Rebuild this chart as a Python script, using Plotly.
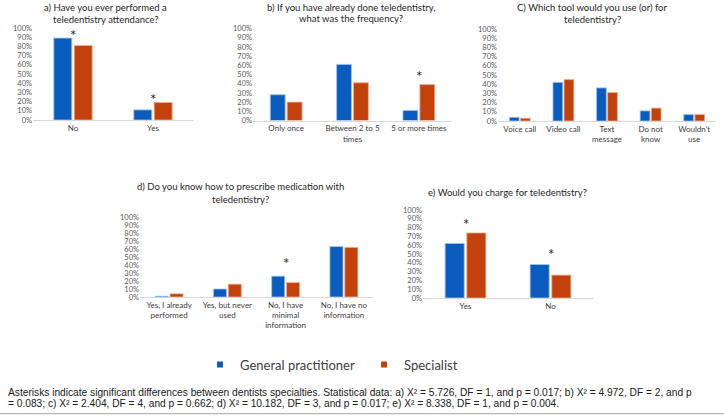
import plotly.graph_objects as go

W, H = 724, 416
BLUE = "#0B5CBF"
ORANGE = "#C2410C"
FONT = "Lato"

# ---------------- data ----------------
cats_a = ["No", "Yes"]
gp_a = [0.89, 0.11]
sp_a = [0.81, 0.19]

cats_b = ["Only once", "Between 2 to 5<br>times", "5 or more times"]
gp_b = [0.28, 0.61, 0.11]
sp_b = [0.20, 0.41, 0.39]

cats_c = ["Voice call", "Video call", "Text<br>message", "Do not<br>know", "Wouldn't<br>use"]
gp_c = [0.04, 0.42, 0.36, 0.11, 0.07]
sp_c = [0.03, 0.45, 0.31, 0.14, 0.07]

cats_d = ["Yes, I already<br>performed", "Yes, but never<br>used",
          "No, I have<br>minimal<br>information", "No, I have no<br>information"]
gp_d = [0.01, 0.10, 0.26, 0.63]
sp_d = [0.04, 0.16, 0.18, 0.62]

cats_e = ["Yes", "No"]
gp_e = [0.62, 0.38]
sp_e = [0.74, 0.26]

# significance asterisks: (category index, height)
sig_a = [(0, 0.97), (1, 0.27)]
sig_b = [(2, 0.53)]
sig_c = []
sig_d = [(2, 0.475)]
sig_e = [(0, 0.89), (1, 0.54)]

titles = [
    ["a) Have you ever performed a", "teledentistry attendance?"],
    ["b) If you have already done teledentistry,", "what was the frequency?"],
    ["C) Which tool would you use (or) for", "teledentistry?"],
    ["d) Do you know how to prescribe medication with", "teledentistry?"],
    ["e) Would you charge for teledentistry?"],
]

caption_lines = [
    "Asterisks indicate significant differences between dentists specialties. Statistical data: "
    "a) X² = 5.726, DF = 1, and p = 0.017; b) X² = 4.972, DF = 2, and p",
    "= 0.083; c) X² = 2.404, DF = 4, and p = 0.662; d) X² = 10.182, DF = 3, and p = 0.017; "
    "e) X² = 8.338, DF = 1, and p = 0.004.",
]

panels = [
    (cats_a, gp_a, sp_a, sig_a),
    (cats_b, gp_b, sp_b, sig_b),
    (cats_c, gp_c, sp_c, sig_c),
    (cats_d, gp_d, sp_d, sig_d),
    (cats_e, gp_e, sp_e, sig_e),
]

# ---------------- layout geometry (pixels) ----------------
# x0, x1, y_top(100%), y_bottom(0%)
geom = [
    (33, 193, 28, 120),
    (253, 452, 28.5, 120.5),
    (498, 716, 29, 121),
    (140, 373, 217, 297),
    (423, 593, 210, 298),
]
# title centre x and line centre ys
title_pos = [(105, [7.5, 19.5]), (351, [7, 19]), (592, [7.5, 19.5]), (240, [186, 199]), (507, [192])]


def px(x):
    return x / W


def py(y):
    return 1 - y / H


fig = go.Figure()
layout = dict(
    width=W, height=H,
    margin=dict(l=0, r=0, t=0, b=0),
    paper_bgcolor="white", plot_bgcolor="white",
    bargap=0.49, bargroupgap=0.12,
    barmode="group",
    font=dict(family=FONT, color="#404040"),
    showlegend=True,
)
annotations = []

for i, ((cats, gp, sp, sig), (x0, x1, yt, yb)) in enumerate(zip(panels, geom)):
    n = "" if i == 0 else str(i + 1)
    xa, ya = "x" + n, "y" + n
    fig.add_trace(go.Bar(
        x=cats, y=gp, name="General practitioner", xaxis=xa, yaxis=ya,
        marker=dict(color=BLUE, line=dict(color="#9FC3EE", width=0.8)),
        legendgroup="gp", showlegend=False, offsetgroup="gp" + n,
        hoverinfo="skip"))
    fig.add_trace(go.Bar(
        x=cats, y=sp, name="Specialist", xaxis=xa, yaxis=ya,
        marker=dict(color=ORANGE, line=dict(color="#F0B090", width=0.8)),
        legendgroup="sp", showlegend=False, offsetgroup="sp" + n,
        hoverinfo="skip"))
    layout["xaxis" + n] = dict(
        domain=[px(x0), px(x1)], anchor=ya, showline=True, linecolor="#D9D9D9",
        linewidth=1, ticks="", showgrid=False, zeroline=False, fixedrange=True,
        automargin=False,
        tickfont=dict(size=8, color="#404040", family=FONT), tickangle=0)
    layout["yaxis" + n] = dict(
        domain=[py(yb), py(yt)], anchor=xa, range=[0, 1], dtick=0.1,
        tickformat=".0%", showgrid=False, zeroline=False, showline=False,
        ticks="", fixedrange=True, automargin=False,
        tickfont=dict(size=7.5, color="#595959", family=FONT))
    for ci, h in sig:
        annotations.append(dict(
            x=cats[ci], y=h, xref=xa, yref=ya, text="*", showarrow=False,
            font=dict(size=15, color="#262626", family=FONT),
            yanchor="middle", yshift=-4))
    tx, tys = title_pos[i]
    for line, ty in zip(titles[i], tys):
        annotations.append(dict(
            x=px(tx), y=py(ty), xref="paper", yref="paper", text=line,
            showarrow=False, xanchor="center", yanchor="middle", align="center",
            font=dict(size=9.5, color="#262626", family=FONT)))

# legend entries (small square swatches like the original)
fig.add_trace(go.Scatter(x=[None], y=[None], mode="markers", name="General practitioner",
                         marker=dict(symbol="square", size=6, color=BLUE), legendgroup="gp",
                         showlegend=True, hoverinfo="skip"))
fig.add_trace(go.Scatter(x=[None], y=[None], mode="markers", name="Specialist",
                         marker=dict(symbol="square", size=6, color=ORANGE), legendgroup="sp",
                         showlegend=True, hoverinfo="skip"))

for line, ly in zip(caption_lines, [392.5, 403.5]):
    annotations.append(dict(
        x=px(6), y=py(ly), xref="paper", yref="paper", text=line,
        showarrow=False, xanchor="left", yanchor="middle", align="left",
        font=dict(size=10.2, color="#202020", family="Liberation Sans")))

layout["annotations"] = annotations
layout["legend"] = dict(
    orientation="h", x=px(200), y=py(364.5), xanchor="left", yanchor="middle",
    font=dict(size=13, color="#404040", family=FONT),
    itemwidth=30, entrywidth=119, entrywidthmode="pixels",
    bgcolor="rgba(0,0,0,0)", itemclick=False, itemdoubleclick=False)
layout["shapes"] = [dict(
    type="line", xref="paper", yref="paper", x0=0, x1=1, y0=py(413.7), y1=py(413.7),
    line=dict(color="#A6A6A6", width=1))]

fig.update_layout(**layout)
fig.write_html("out.html", config={"displayModeBar": False},
               post_script="document.body.style.margin='0';document.body.style.overflow='hidden';")
